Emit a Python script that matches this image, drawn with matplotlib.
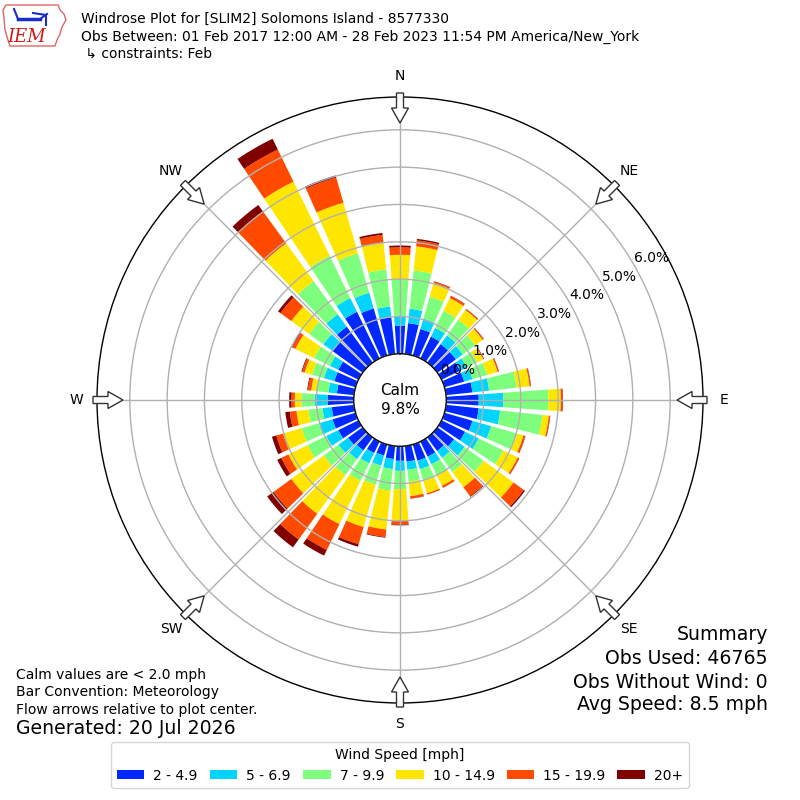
import numpy as np
import matplotlib
matplotlib.use("Agg")
import matplotlib.pyplot as plt
from matplotlib.patches import Patch, FancyArrow, Polygon

# ---------------- data ----------------
directions = list(range(0, 360, 10))  # degrees, direction wind is from
speed_labels = ["2 - 4.9", "5 - 6.9", "7 - 9.9", "10 - 14.9", "15 - 19.9", "20+"]
colors = ["#0028ff", "#00d4ff", "#7dff7d", "#ffe600", "#ff4a00", "#800000"]

# frequency [%] per direction for each speed bin
s2_5 = [0.75, 0.83, 0.74, 0.65, 0.61, 0.61, 0.55, 0.55, 0.71, 0.87, 0.88, 0.78,
        0.70, 0.55, 0.45, 0.45, 0.45, 0.42, 0.39, 0.35, 0.31, 0.34, 0.43, 0.48,
        0.60, 0.64, 0.60, 0.70, 0.46, 0.59, 0.60, 1.00, 1.19, 1.39, 1.31, 0.99]
s5_7 = [0.27, 0.39, 0.29, 0.26, 0.29, 0.23, 0.20, 0.23, 0.45, 0.66, 0.58, 0.52,
        0.41, 0.35, 0.23, 0.23, 0.24, 0.22, 0.27, 0.27, 0.28, 0.31, 0.29, 0.32,
        0.36, 0.38, 0.25, 0.35, 0.23, 0.29, 0.25, 0.30, 0.41, 0.41, 0.44, 0.29]
s7_10 = [0.96, 1.03, 0.61, 0.51, 0.52, 0.41, 0.31, 0.41, 0.74, 1.21, 1.14, 0.72,
         0.73, 0.63, 0.47, 0.32, 0.33, 0.32, 0.49, 0.58, 0.53, 0.52, 0.53, 0.49,
         0.56, 0.48, 0.38, 0.35, 0.32, 0.33, 0.47, 0.47, 1.10, 1.26, 1.10, 1.00]
s10_15 = [0.67, 0.65, 0.38, 0.38, 0.32, 0.25, 0.18, 0.29, 0.35, 0.33, 0.17, 0.18,
          0.43, 0.99, 0.50, 0.32, 0.34, 0.39, 0.85, 1.05, 1.18, 1.29, 1.28, 1.07,
          0.57, 0.52, 0.32, 0.18, 0.14, 0.21, 0.56, 0.59, 1.25, 2.21, 1.41, 0.71]
s15_20 = [0.20, 0.16, 0.04, 0.06, 0.03, 0.03, 0.02, 0.03, 0.03, 0.05, 0.03, 0.05,
          0.04, 0.34, 0.30, 0.06, 0.04, 0.06, 0.10, 0.20, 0.48, 0.77, 0.85, 0.59,
          0.21, 0.19, 0.18, 0.09, 0.09, 0.07, 0.09, 0.36, 1.05, 0.96, 0.70, 0.22]
s20p = [0.05, 0.04, 0.01, 0.01, 0.01, 0.01, 0.01, 0.01, 0.01, 0.01, 0.01, 0.01,
        0.01, 0.04, 0.02, 0.00, 0.00, 0.01, 0.02, 0.02, 0.07, 0.17, 0.26, 0.21,
        0.12, 0.12, 0.12, 0.06, 0.02, 0.02, 0.03, 0.08, 0.22, 0.32, 0.06, 0.05]

series = [s2_5, s5_7, s7_10, s10_15, s15_20, s20p]
rticks = [0, 1, 2, 3, 4, 5, 6]
calm_pct = 9.8
compass = ["N", "NE", "E", "SE", "S", "SW", "W", "NW"]

# ---------------- figure ----------------
fig = plt.figure(figsize=(8, 8), dpi=100)
ax = fig.add_axes([97 / 800, 97 / 800, 606 / 800, 606 / 800], projection="polar")
ax.set_theta_zero_location("N")
ax.set_theta_direction(-1)

theta = np.deg2rad(directions)
width = np.deg2rad(8.0)
bottom = np.zeros(len(directions))
for vals, col, lab in zip(series, colors, speed_labels):
    vals = np.array(vals)
    ax.bar(theta, vals, width=width, bottom=bottom, color=col, linewidth=0,
           label=lab, zorder=1)
    bottom = bottom + vals

ax.set_ylim(0, 6.88)
ax.set_rorigin(-1.24)
ax.set_yticks(rticks)
ax.set_yticklabels(["%.1f%%" % v for v in rticks], fontsize=10)
ax.set_rlabel_position(60)
ax.set_xticks(np.deg2rad(np.arange(0, 360, 45)))
ax.set_xticklabels([])
ax.grid(True, color="#b0b0b0", linewidth=1.0)
for sp in ax.spines.values():
    sp.set_color("black")
    sp.set_linewidth(1.0)

ax.text(0.5, 0.5, "Calm\n%.1f%%" % calm_pct, transform=ax.transAxes,
        ha="center", va="center", fontsize=11, linespacing=1.3)

# compass labels and inward arrows
for i, lab in enumerate(compass):
    a = np.deg2rad(i * 45)
    sx, sy = np.sin(a), np.cos(a)
    rl = 0.5 * 324 / 303
    ax.text(0.5 + rl * sx, 0.5 + rl * sy, lab, transform=ax.transAxes,
            ha="center", va="center", fontsize=10)
    r0 = 0.5 * 307 / 303
    r1 = 0.5 * 277 / 303
    arr = FancyArrow(0.5 + r0 * sx, 0.5 + r0 * sy, (r1 - r0) * sx, (r1 - r0) * sy,
                     width=7 / 606, head_width=17 / 606, head_length=15 / 606,
                     length_includes_head=True, facecolor="white",
                     edgecolor="#333333", linewidth=1.0,
                     transform=ax.transAxes, clip_on=False, zorder=5)
    ax.add_patch(arr)

# ---------------- header ----------------
fig.text(81 / 800, 1 - 19 / 800, "Windrose Plot for [SLIM2] Solomons Island - 8577330",
         fontsize=10, va="center", ha="left")
fig.text(81 / 800, 1 - 37 / 800,
         "Obs Between: 01 Feb 2017 12:00 AM - 28 Feb 2023 11:54 PM America/New_York",
         fontsize=10, va="center", ha="left")
fig.text(81 / 800, 1 - 54 / 800, " \u21b3 constraints: Feb",
         fontsize=10, va="center", ha="left")

# logo
lax = fig.add_axes([0, 1 - 52 / 800, 72 / 800, 52 / 800])
lax.set_xlim(0, 72)
lax.set_ylim(52, 0)
lax.axis("off")
iowa = [(6, 5), (58, 5), (60, 10), (64, 14), (66, 20), (62, 27), (60, 34),
        (57, 40), (55, 46), (10, 46), (8, 40), (5, 30), (4, 18), (3, 10)]
lax.add_patch(Polygon(iowa, closed=True, fill=False, edgecolor="#d66", linewidth=1.0))
lax.plot([18, 40], [19, 19], color="#1a2ccc", lw=2.5)
lax.plot([14, 18], [9, 19], color="#1a2ccc", lw=1.5)
lax.plot([40, 47], [19, 14], color="#1a2ccc", lw=1.5)
lax.plot([33, 46, 46], [13, 15, 25], color="#1a2ccc", lw=1.5)
lax.text(27, 37, "IEM", color="#d01818", fontsize=13, style="italic",
         family="DejaVu Serif", ha="center", va="center")

# ---------------- footer texts ----------------
fig.text(16 / 800, 1 - 675 / 800, "Calm values are < 2.0 mph", fontsize=10, va="center")
fig.text(16 / 800, 1 - 692 / 800, "Bar Convention: Meteorology", fontsize=10, va="center")
fig.text(16 / 800, 1 - 710 / 800, "Flow arrows relative to plot center.", fontsize=10, va="center")
fig.text(16 / 800, 1 - 729 / 800, "Generated: 20 Jul 2026", fontsize=13.6, va="center")

fig.text(768 / 800, 1 - 635 / 800, "Summary", fontsize=13.6, va="center", ha="right")
fig.text(768 / 800, 1 - 659 / 800, "Obs Used: 46765", fontsize=13.6, va="center", ha="right")
fig.text(768 / 800, 1 - 682 / 800, "Obs Without Wind: 0", fontsize=13.6, va="center", ha="right")
fig.text(768 / 800, 1 - 705 / 800, "Avg Speed: 8.5 mph", fontsize=13.6, va="center", ha="right")

handles = [Patch(facecolor=c, edgecolor="none") for c in colors]
fig.legend(handles, speed_labels, loc="lower center", bbox_to_anchor=(0.5, 0.006),
           ncol=6, title="Wind Speed [mph]", fontsize=10, title_fontsize=10,
           handlelength=2.0, handleheight=0.65, handletextpad=0.65,
           columnspacing=0.85, frameon=True)

fig.savefig("out.png", dpi=100)
